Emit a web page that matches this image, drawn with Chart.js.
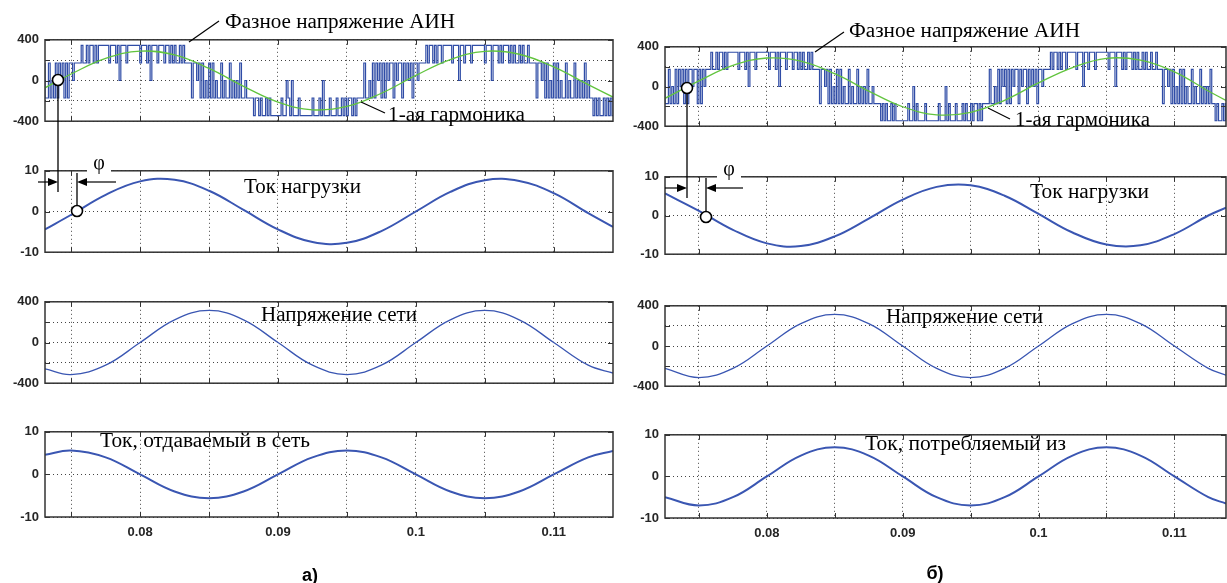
<!DOCTYPE html>
<html>
<head>
<meta charset="utf-8">
<script src="https://cdn.jsdelivr.net/npm/chart.js@4.4.1/dist/chart.umd.min.js"></script>
<style>
html, body { margin: 0; padding: 0; background: #fff; overflow: hidden; }
#wrap { position: relative; width: 1227px; height: 583px; }
#wrap canvas { position: absolute; }
#wrap svg { position: absolute; left: 0; top: 0; }
</style>
</head>
<body>
<div id="wrap"></div>
<script>
"use strict";

// sample times, s
const tA = [0.0731, 0.075, 0.0775, 0.08, 0.0825, 0.085, 0.0875, 0.09, 0.0925, 0.095, 0.0975, 0.1, 0.1025, 0.105, 0.1075, 0.11, 0.1125, 0.1143];
const tB = [0.0725, 0.075, 0.0775, 0.08, 0.0825, 0.085, 0.0875, 0.09, 0.0925, 0.095, 0.0975, 0.1, 0.1025, 0.105, 0.1075, 0.11, 0.1125, 0.1138];

// а) inverter -> grid
const harmA  = [-72, 64, 217, 289, 251, 119, -57, -212, -288, -255, -125, 50, 206, 287, 258, 133, -41, -163];
const loadA  = [-4.4, -0.8, 4.1, 7.4, 7.8, 5.1, 0.4, -4.4, -7.5, -7.7, -4.8, 0.0, 4.8, 7.7, 7.5, 4.5, -0.4, -3.8];
const gridUA = [-260, -315, -223, 0, 223, 315, 223, 0, -223, -315, -223, 0, 223, 315, 223, 0, -223, -300];
const gridIA = [4.6, 5.6, 4.0, 0, -4.0, -5.6, -4.0, 0, 4.0, 5.6, 4.0, 0, -4.0, -5.6, -4.0, 0, 4.0, 5.5];

// б) grid -> inverter
const harmB  = [-119, 57, 212, 287, 256, 129, -46, -204, -286, -260, -139, 36, 191, 284, 265, 148, -45, -140];
const loadB  = [5.7, 1.2, -3.7, -7.2, -7.9, -5.4, -0.8, 4.1, 7.4, 7.8, 5.1, 0.4, -4.4, -7.5, -7.7, -4.8, 0.0, 2.0];
const gridUB = [-223, -315, -223, 0, 223, 315, 223, 0, -223, -315, -223, 0, 223, 315, 223, 0, -223, -290];
const gridIB = [-5.0, -7.0, -5.0, 0, 5.0, 7.0, 5.0, 0, -5.0, -7.0, -5.0, 0, 5.0, 7.0, 5.0, 0, -5.0, -6.5];

// PWM phase voltage, one level code per 0.125 ms
const pwmLevels = { "4": 345, "3": 172, "2": 0, "1": -172, "0": -345 };
const pwmStep = 0.000125;
const pwmA =
    "31131213132313133233" +
    "3343343443434444" + "4434443424443444" + "4444344434244434" + "4434434343343433" +
    "331332313121313121131211312121311211" +
    "1101101001010000" + "0010021020001000" + "0000100010200010" + "0010010101101011" +
    "113112131323131323313233132323133233" +
    "3343443434434444" + "4344424434443444" + "4444344424443434" + "4434343343433433" +
    "3313323131213131211312113121213121" +
    "10101001010100";
const pwmB =
    "31131213132313133233131323" +
    "3343343443434444" + "4434443424443444" + "4444344434244434" + "4434434343343433" +
    "331332313121313121131211312121311211" +
    "1101010010100000" + "0010020100001000" + "0000100020100010" + "0010100101101011" +
    "113112131323131323313233132323133233" +
    "3343443434434444" + "4344424434443444" + "4444344424443434" + "4434343343433433" + "43" +
    "33133231312131312113121131212131" +
    "10100101";

const xTickLabels = ["0.08", "0.09", "0.1", "0.11"];
const uTickLabels = ["-400", "0", "400"];
const iTickLabels = ["-10", "0", "10"];

const colorPwm   = "#2f4ca6";
const colorHarm  = "#62c43e";
const colorWave  = "#3a56b2";
const colorFrame = "#333";
const colorTick  = "#262626";

const wrap = document.getElementById("wrap");

function toPoints(ts, vs) {
    return ts.map((t, i) => ({ x: t, y: vs[i] }));
}

function pwmPoints(code, t0) {
    return code.split("").map((c, i) => ({ x: t0 + i * pwmStep, y: pwmLevels[c] }));
}

const framePlugin = {
    id: "frame",
    afterDatasetsDraw(chart) {
        const ctx = chart.ctx;
        const a = chart.chartArea;
        const sx = chart.scales.x, sy = chart.scales.y;
        ctx.save();
        ctx.strokeStyle = colorFrame;
        ctx.lineWidth = 1.5;
        ctx.strokeRect(a.left, a.top, a.right - a.left, a.bottom - a.top);
        ctx.lineWidth = 1;
        ctx.beginPath();
        sx.ticks.forEach(t => {
            const p = Math.round(sx.getPixelForValue(t.value)) + 0.5;
            ctx.moveTo(p, a.bottom); ctx.lineTo(p, a.bottom - 5);
            ctx.moveTo(p, a.top);    ctx.lineTo(p, a.top + 5);
        });
        sy.ticks.forEach(t => {
            const p = Math.round(sy.getPixelForValue(t.value)) + 0.5;
            ctx.moveTo(a.left, p);  ctx.lineTo(a.left + 5, p);
            ctx.moveTo(a.right, p); ctx.lineTo(a.right - 5, p);
        });
        ctx.stroke();
        ctx.restore();
    }
};

function panel(cfg) {
    const padTop = 10;
    const padBot = cfg.xLabels ? 0 : 10;
    const axisH = cfg.xLabels ? 26 : 0;
    const w = cfg.right + cfg.padRight - cfg.canvasLeft;
    const h = cfg.bottom - cfg.top + padTop + padBot + axisH;

    const canvasEl = document.createElement("canvas");
    canvasEl.width = w;
    canvasEl.height = h;
    canvasEl.style.left = cfg.canvasLeft + "px";
    canvasEl.style.top = (cfg.top - padTop) + "px";
    canvasEl.style.width = w + "px";
    canvasEl.style.height = h + "px";
    wrap.appendChild(canvasEl);

    const yLabels = cfg.isVolt ? uTickLabels : iTickLabels;
    const tickFont = { family: "'Liberation Sans', Arial, sans-serif", size: 13, weight: "bold" };

    new Chart(canvasEl.getContext("2d"), {
        type: "line",
        data: { datasets: cfg.datasets },
        options: {
            responsive: false,
            animation: false,
            events: [],
            layout: { padding: { top: padTop, bottom: padBot, left: 0, right: cfg.padRight } },
            plugins: { legend: { display: false }, tooltip: { enabled: false } },
            elements: { point: { radius: 0 } },
            scales: {
                x: {
                    type: "linear",
                    min: cfg.xMin,
                    max: cfg.xMax,
                    afterFit: s => { s.height = axisH; },
                    grid:   { color: "#444", lineWidth: 1, drawTicks: false },
                    border: { display: false, dash: [1, 3] },
                    ticks: {
                        display: !!cfg.xLabels,
                        stepSize: 0.005,
                        includeBounds: false,
                        autoSkip: false,
                        maxRotation: 0,
                        maxTicksLimit: 30,
                        padding: 8,
                        color: colorTick,
                        font: tickFont,
                        callback: v => xTickLabels.find(l => Math.abs(parseFloat(l) - v) < 1e-6) || ""
                    }
                },
                y: {
                    min: cfg.isVolt ? -400 : -10,
                    max: cfg.isVolt ? 400 : 10,
                    afterFit: s => { s.width = cfg.left - cfg.canvasLeft; },
                    grid:   { color: "#444", lineWidth: 1, drawTicks: false },
                    border: { display: false, dash: [1, 3] },
                    ticks: {
                        stepSize: cfg.isVolt ? 200 : 10,
                        maxTicksLimit: 30,
                        padding: 6,
                        color: colorTick,
                        font: tickFont,
                        callback: v => yLabels.includes(String(v)) ? String(v) : ""
                    }
                }
            }
        },
        plugins: [framePlugin]
    });
}

function smooth(data, width) {
    return { data: data, borderColor: colorWave, borderWidth: width, tension: 0.4, fill: false };
}

const colA = { canvasLeft: 0, left: 45, right: 613, padRight: 2, xMin: 0.0731, xMax: 0.1143 };
const colB = { canvasLeft: 615, left: 665, right: 1226, padRight: 1, xMin: 0.0725, xMax: 0.1138 };

const rowsA = [
    { top: 36, bottom: 125, isVolt: true, datasets: [
        { data: toPoints(tA, harmA), borderColor: colorHarm, borderWidth: 1.3, tension: 0.4 },
        { data: pwmPoints(pwmA, tA[0]), borderColor: colorPwm, borderWidth: 1.2, stepped: "after" }
    ] },
    { top: 167, bottom: 256, isVolt: false, datasets: [smooth(toPoints(tA, loadA), 2)] },
    { top: 298, bottom: 387, isVolt: true,  datasets: [smooth(toPoints(tA, gridUA), 1.3)] },
    { top: 428, bottom: 517, isVolt: false, xLabels: true, datasets: [smooth(toPoints(tA, gridIA), 2)] }
];
const rowsB = [
    { top: 43, bottom: 130, isVolt: true, datasets: [
        { data: toPoints(tB, harmB), borderColor: colorHarm, borderWidth: 1.3, tension: 0.4 },
        { data: pwmPoints(pwmB, tB[0]), borderColor: colorPwm, borderWidth: 1.2, stepped: "after" }
    ] },
    { top: 173, bottom: 258, isVolt: false, datasets: [smooth(toPoints(tB, loadB), 2)] },
    { top: 302, bottom: 390, isVolt: true,  datasets: [smooth(toPoints(tB, gridUB), 1.3)] },
    { top: 431, bottom: 518, isVolt: false, xLabels: true, datasets: [smooth(toPoints(tB, gridIB), 2)] }
];

rowsA.forEach(r => panel(Object.assign({}, colA, r)));
rowsB.forEach(r => panel(Object.assign({}, colB, r)));

// annotations
const serif = "font-family=\"'Liberation Serif','Times New Roman',serif\" font-size=\"20\"";
function label(x, y, len, s) {
    return `<text x="${x}" y="${y}" ${serif} textLength="${len}" lengthAdjust="spacingAndGlyphs">${s}</text>`;
}
function phi(c1x, c1y, c2x, c2y, lineEnd, lineTop, arrowY, leftX, rightX, phiX, phiY) {
    return `
    <line x1="${c1x}" y1="${c1y + 5}" x2="${c1x}" y2="${lineEnd}" stroke="#000" stroke-width="1.3"/>
    <line x1="${c2x}" y1="${lineTop}" x2="${c2x}" y2="${c2y - 5}" stroke="#000" stroke-width="1.3"/>
    <circle cx="${c1x}" cy="${c1y}" r="5.5" fill="#fff" stroke="#000" stroke-width="1.6"/>
    <circle cx="${c2x}" cy="${c2y}" r="5.5" fill="#fff" stroke="#000" stroke-width="1.6"/>
    <line x1="${leftX}" y1="${arrowY}" x2="${c1x - 8}" y2="${arrowY}" stroke="#000" stroke-width="1.2"/>
    <polygon points="${c1x - 10},${arrowY - 4} ${c1x},${arrowY} ${c1x - 10},${arrowY + 4}" fill="#000"/>
    <line x1="${rightX}" y1="${arrowY}" x2="${c2x + 8}" y2="${arrowY}" stroke="#000" stroke-width="1.2"/>
    <polygon points="${c2x + 10},${arrowY - 4} ${c2x},${arrowY} ${c2x + 10},${arrowY + 4}" fill="#000"/>
    <rect x="${phiX - 12}" y="${phiY - 14}" width="24" height="17" fill="#fff"/>
    <text x="${phiX}" y="${phiY}" ${serif} text-anchor="middle">φ</text>`;
}

const svg = `<svg width="1227" height="583" xmlns="http://www.w3.org/2000/svg">
  <line x1="219" y1="21" x2="189" y2="42" stroke="#000" stroke-width="1.2"/>
  ${label(225, 28, 230, "Фазное напряжение АИН")}
  <line x1="361" y1="102" x2="385" y2="113" stroke="#000" stroke-width="1.2"/>
  ${label(388, 121, 137, "1-ая гармоника")}
  ${label(244, 193, 117, "Ток нагрузки")}
  ${label(261, 321, 156, "Напряжение сети")}
  ${label(100, 447, 210, "Ток, отдаваемый в сеть")}
  ${phi(58, 80, 77, 211, 192, 173, 182, 38, 116, 99, 169)}

  <line x1="844" y1="32" x2="815" y2="52" stroke="#000" stroke-width="1.2"/>
  ${label(849, 37, 231, "Фазное напряжение АИН")}
  <line x1="988" y1="108" x2="1010" y2="119" stroke="#000" stroke-width="1.2"/>
  ${label(1015, 126, 135, "1-ая гармоника")}
  ${label(1030, 198, 119, "Ток нагрузки")}
  ${label(886, 323, 157, "Напряжение сети")}
  ${label(865, 450, 201, "Ток, потребляемый из")}
  ${phi(687, 88, 706, 217, 198, 178, 188, 665, 743, 729, 175)}

  <text x="310" y="581" font-family="'Liberation Sans',Arial,sans-serif" font-size="18" font-weight="bold" text-anchor="middle">а)</text>
  <text x="935" y="579" font-family="'Liberation Sans',Arial,sans-serif" font-size="18" font-weight="bold" text-anchor="middle">б)</text>
</svg>`;
wrap.insertAdjacentHTML("beforeend", svg);
</script>
</body>
</html>
